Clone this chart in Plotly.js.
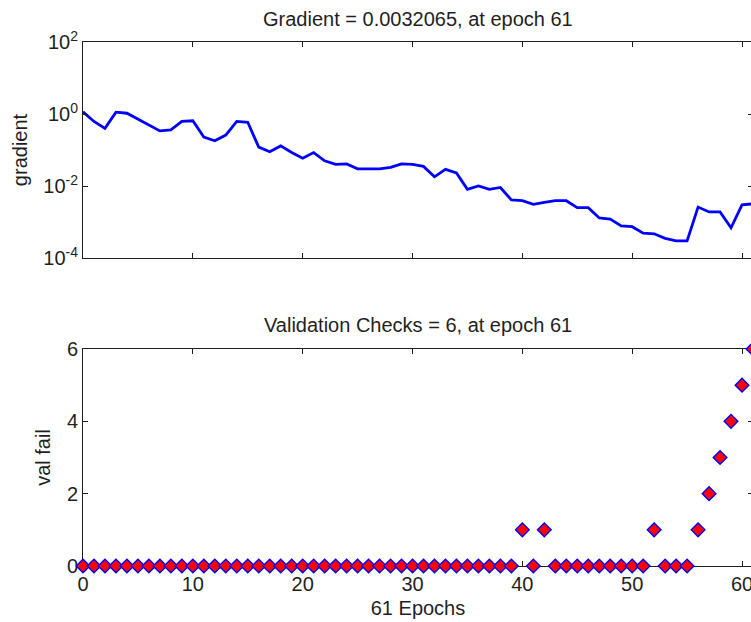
<!DOCTYPE html>
<html>
<head>
<meta charset="utf-8">
<script src="https://cdn.plot.ly/plotly-3.0.1.min.js"></script>
<style>
  html, body { margin: 0; padding: 0; overflow: hidden; background: #ffffff; }
  #chart { width: 780px; height: 622px; }
</style>
</head>
<body>
<div id="chart"></div>
<script>
// Training record: gradient magnitude and validation-check count per epoch
const epochs = [0, 1, 2, 3, 4, 5, 6, 7, 8, 9, 10, 11, 12, 13, 14, 15, 16, 17, 18, 19, 20,
                21, 22, 23, 24, 25, 26, 27, 28, 29, 30, 31, 32, 33, 34, 35, 36, 37, 38, 39, 40,
                41, 42, 43, 44, 45, 46, 47, 48, 49, 50, 51, 52, 53, 54, 55, 56, 57, 58, 59, 60, 61];

const gradient = [1.15, 0.62, 0.40, 1.12, 1.05, 0.72, 0.51, 0.34, 0.36, 0.62, 0.65,
                  0.23, 0.18, 0.26, 0.62, 0.59, 0.12, 0.089, 0.13, 0.085, 0.059,
                  0.085, 0.050, 0.040, 0.041, 0.030, 0.030, 0.030, 0.033, 0.041, 0.040,
                  0.035, 0.018, 0.029, 0.023, 0.0081, 0.010, 0.0081, 0.0091, 0.0041, 0.0039,
                  0.0031, 0.0035, 0.0039, 0.0039, 0.0025, 0.0025, 0.0013, 0.0012, 0.00078, 0.00074,
                  0.00049, 0.00047, 0.00035, 0.00030, 0.00030, 0.0026, 0.0019, 0.0019, 0.00069, 0.0030,
                  0.0032065];

const valFail = [0, 0, 0, 0, 0, 0, 0, 0, 0, 0, 0, 0, 0, 0, 0, 0, 0, 0, 0, 0, 0,
                 0, 0, 0, 0, 0, 0, 0, 0, 0, 0, 0, 0, 0, 0, 0, 0, 0, 0, 0, 1,
                 0, 1, 0, 0, 0, 0, 0, 0, 0, 0, 0, 1, 0, 0, 0, 1, 2, 3, 4, 5, 6];

const epochTicks = [0, 10, 20, 30, 40, 50, 60];
const gradTickVals = [1e-4, 1e-2, 1, 1e2];
const gradTickText = ['10<sup>-4</sup>', '10<sup>-2</sup>', '10<sup>0</sup>', '10<sup>2</sup>'];
const failTicks = [0, 2, 4, 6];

const gradTitle = 'Gradient = 0.0032065, at epoch 61';
const failTitle = 'Validation Checks = 6, at epoch 61';

// Figure geometry in pixels
const W = 780, H = 622;
const fy = px => 1 - px / H;   // pixel row -> paper fraction

const ink = '#1f1f1f';
const baseFont = { family: 'Arial, "Liberation Sans", sans-serif', size: 20, color: ink };

const axisCommon = {
  showline: true, linecolor: ink, linewidth: 1,
  mirror: 'ticks', ticks: 'inside', ticklen: 5, tickwidth: 1, tickcolor: ink,
  showgrid: false, zeroline: false, fixedrange: true,
  tickfont: baseFont
};

const traces = [
  {
    x: epochs, y: gradient, xaxis: 'x', yaxis: 'y',
    type: 'scatter', mode: 'lines',
    line: { color: '#0000ff', width: 2.8 },
    hoverinfo: 'skip'
  },
  {
    x: epochs, y: valFail, xaxis: 'x2', yaxis: 'y2',
    type: 'scatter', mode: 'markers', cliponaxis: false,
    marker: { symbol: 'diamond', size: 10.5, color: '#ff0000',
              line: { color: '#0000ff', width: 1.4 } },
    hoverinfo: 'skip'
  }
];

const layout = {
  width: W, height: H,
  margin: { l: 83, r: 27, t: 0, b: 0 },
  paper_bgcolor: '#ffffff', plot_bgcolor: '#ffffff',
  showlegend: false,
  font: baseFont,
  xaxis: Object.assign({}, axisCommon, {
    domain: [0, 1], anchor: 'y', range: [0, 61],
    tickvals: epochTicks, showticklabels: false
  }),
  yaxis: Object.assign({}, axisCommon, {
    domain: [fy(258), fy(42)], anchor: 'x', type: 'log', range: [-4, 2],
    tickvals: gradTickVals, ticktext: gradTickText,
    title: { text: 'gradient', font: baseFont, standoff: 10 }
  }),
  xaxis2: Object.assign({}, axisCommon, {
    domain: [0, 1], anchor: 'y2', range: [0, 61],
    tickvals: epochTicks, layer: 'below traces',
    title: { text: '61 Epochs', font: baseFont, standoff: 6 }
  }),
  yaxis2: Object.assign({}, axisCommon, {
    domain: [fy(566), fy(349)], anchor: 'x2', range: [0, 6],
    tickvals: failTicks, layer: 'below traces',
    title: { text: 'val fail', font: baseFont, standoff: 10 }
  }),
  annotations: [
    { text: gradTitle, xref: 'paper', yref: 'paper', x: 0.5, y: fy(19),
      xanchor: 'center', yanchor: 'middle', showarrow: false, font: baseFont },
    { text: failTitle, xref: 'paper', yref: 'paper', x: 0.5, y: fy(325),
      xanchor: 'center', yanchor: 'middle', showarrow: false, font: baseFont }
  ]
};

Plotly.newPlot('chart', traces, layout, { staticPlot: true, displayModeBar: false });
</script>
</body>
</html>
